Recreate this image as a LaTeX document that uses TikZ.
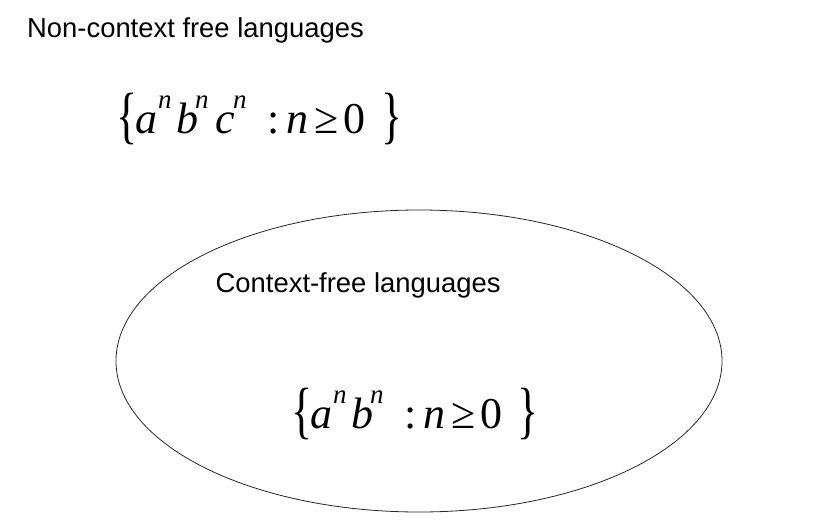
\documentclass[tikz,border=0pt]{standalone}
\usepackage{fontspec}
\setmainfont{Liberation Serif}
\newfontfamily\labelfont{Liberation Sans}
\newfontfamily\formfont{Liberation Serif}
\usetikzlibrary{shapes.geometric}
\newcommand\gl[2]{\rlap{\hspace*{#1pt}#2}}
\newcommand\mainit[1]{{\fontsize{44}{44}\selectfont\itshape #1}}
\newcommand\mainup[1]{{\fontsize{44}{44}\selectfont #1}}
\newcommand\supit[1]{\raisebox{25pt}{\fontsize{27}{27}\selectfont\itshape #1}}
\newcommand\bigbrace[1]{\raisebox{-3pt}{\scalebox{1.0}[1.42]{\fontsize{44}{44}\selectfont #1}}}
\tikzset{
  lbl/.style={anchor=base west, inner sep=0pt, font=\labelfont\fontsize{27.4}{30}\selectfont},
  frm/.style={anchor=base west, inner sep=0pt, font=\formfont},
  setshape/.style={draw=black!85, line width=0.8pt, ellipse, inner sep=0pt}
}
\begin{document}
\begin{tikzpicture}[x=1pt,y=-1pt]
\useasboundingbox (0,0) rectangle (819,530);
\node[lbl] (ncf) at (27,37) {Non-context free languages};
\node[frm] (f1) at (116,133) {\gl{0}{\bigbrace{\{}}\gl{19}{\mainit{a}}\gl{42}{\supit{n}}\gl{60}{\mainit{b}}\gl{79}{\supit{n}}\gl{99}{\mainit{c}}\gl{117}{\supit{n}}\gl{151}{\mainup{:}}\gl{170}{\mainit{n}}\gl{198}{\mainup{≥}}\gl{227}{\mainup{0}}\gl{265}{\bigbrace{\}}}\hspace*{285pt}};
\node[setshape, minimum width=606pt, minimum height=302pt] (cfl) at (419,361) {};
\node[lbl] (cfltxt) at (215.5,292) {Context-free languages};
\node[frm] (f2) at (291,428) {\gl{0}{\bigbrace{\{}}\gl{19}{\mainit{a}}\gl{42}{\supit{n}}\gl{60}{\mainit{b}}\gl{79}{\supit{n}}\gl{113}{\mainup{:}}\gl{132}{\mainit{n}}\gl{160}{\mainup{≥}}\gl{189}{\mainup{0}}\gl{226}{\bigbrace{\}}}\hspace*{245pt}};
\end{tikzpicture}
\end{document}
